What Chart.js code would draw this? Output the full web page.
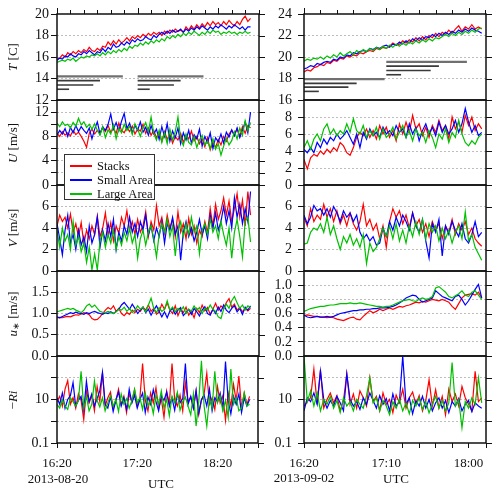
<!DOCTYPE html>
<html>
<head>
<meta charset="utf-8">
<script src="https://cdn.jsdelivr.net/npm/chart.js@4.4.1/dist/chart.umd.min.js"></script>
<style>
  body { margin: 0; background: #fff; }
  #fig { position: relative; width: 500px; height: 493px; overflow: hidden;
         font-family: 'Liberation Serif', 'Times New Roman', serif; color: #111; }
  #fig canvas { position: absolute; }
  .ytitle { position: absolute; transform: translate(-50%, -50%) rotate(-90deg);
            white-space: nowrap; font-size: 13px; }
  .txt { position: absolute; transform: translate(-50%, -50%); white-space: nowrap; font-size: 13px; }
  #legend { position: absolute; left: 64px; top: 154px; width: 89px; height: 40px;
            border: 1px solid #333; background: #fff; z-index: 10; font-size: 12.5px; padding-top: 4px; box-sizing: content-box; }
  #legend .row { position: relative; height: 14px; line-height: 14px; padding-left: 32px; }
  #legend .sw { position: absolute; left: 5px; top: 6px; width: 22px; height: 2px; }
</style>
</head>
<body>
<div id="fig"></div>
<script>
// Temperature, wind and stability at three sites, two days
// sampled every STEP_MIN minutes from 16:20 UTC

const STEP_MIN = 2;
const SERIES_NAMES = ['Stacks', 'Small Area', 'Large Area'];
const SERIES_COLORS = ['#ff0000', '#0000ff', '#00c000'];

const leftXTickMinutes = [0, 60, 120];
const leftXTickLabels = ['16:20', '17:20', '18:20'];
const rightXTickMinutes = [0, 50, 100];
const rightXTickLabels = ['16:20', '17:10', '18:00'];
const RI_TICKS = [0.1, 1, 10, 100, 1000];
const RI_LABELED = [0.1, 10];

// averaging-window bars in the temperature panels (minutes / deg C)
const barDurations = [9, 27, 32, 49];
const leftBarStarts = [0, 60];
const leftBarLevels = [13.0, 13.4, 13.8, 14.2];
const rightBarStarts = [0, 50];
const rightBarLevels1 = [16.8, 17.2, 17.55, 17.95];
const rightBarLevels2 = [18.35, 18.75, 19.15, 19.55];

// ---- 2013-08-20 ----
const leftTempStacks = [15.8,15.9,16.2,16.0,16.4,16.2,16.5,16.3,16.6,16.4,
  16.7,16.5,16.9,16.6,16.5,16.8,16.6,17.0,16.9,17.4,
  17.1,17.5,17.2,17.6,17.3,17.5,17.8,17.5,17.9,17.7,
  18.0,17.8,18.1,17.9,18.2,18.0,18.3,18.1,18.3,18.0,
  18.4,18.2,18.5,18.3,18.6,18.4,18.5,18.3,18.8,18.5,
  18.9,18.6,19.0,18.7,19.1,18.8,19.2,18.9,19.3,19.0,
  19.2,18.9,19.3,19.0,19.4,19.1,18.9,19.3,19.0,19.5,
  19.8,19.3,19.6];
const leftTempSmall = [15.7,15.9,15.8,16.1,16.0,16.3,16.1,16.0,16.3,16.2,
  16.5,16.3,16.6,16.4,16.2,16.5,16.4,16.8,16.5,16.9,
  16.7,17.2,16.9,17.0,17.3,17.1,17.4,17.2,17.6,17.4,
  17.7,17.5,17.6,17.9,17.7,17.6,18.0,17.8,18.1,18.3,
  18.1,18.4,18.2,18.5,18.3,18.4,18.6,18.3,18.6,18.4,
  18.7,18.5,18.8,18.6,18.9,18.7,18.5,18.8,18.6,18.9,
  18.7,19.0,18.8,18.6,18.9,18.7,19.0,18.8,18.6,18.8,
  18.5,18.8,18.8];
const leftTempLarge = [15.5,15.6,15.7,15.6,15.8,15.7,15.9,15.6,15.8,16.0,
  15.9,16.1,16.0,16.2,16.1,16.3,16.1,16.4,16.2,16.5,
  16.3,16.6,16.4,16.7,16.5,16.8,16.6,17.0,16.8,17.1,
  17.0,17.3,17.1,17.4,17.2,17.5,17.3,17.6,17.4,17.7,
  17.5,17.9,17.7,18.0,17.8,18.1,17.9,18.2,18.0,18.3,
  18.1,18.4,18.2,18.0,18.3,18.1,18.4,18.2,18.5,18.3,
  18.4,18.1,18.3,18.2,18.4,18.2,18.3,18.1,18.3,18.2,
  18.4,18.2,18.3];

const leftUStacks = [8.5,8.0,8.8,8.2,8.6,8.1,9.0,8.3,8.7,8.0,
  7.2,6.2,8.5,9.2,8.4,9.0,8.6,9.4,8.8,9.8,
  8.7,9.3,8.5,10.2,9.0,8.6,9.5,8.8,9.7,8.4,
  9.2,8.9,10.0,8.5,9.4,8.2,9.0,7.8,8.6,7.2,
  8.8,7.5,8.4,6.9,8.0,7.4,8.5,7.0,8.2,7.6,
  8.9,7.3,8.0,6.8,7.6,6.3,7.8,5.8,7.0,6.2,
  7.5,6.6,8.0,7.2,8.4,9.0,8.2,9.3,8.0,9.6,
  8.5,9.8,9.4];
const leftUSmall = [8.2,9.0,8.4,9.3,8.0,9.5,8.6,9.8,8.8,9.6,
  9.0,8.5,9.4,7.6,9.2,10.4,8.4,9.6,9.0,10.0,
  11.7,9.2,10.3,8.9,10.5,11.8,9.3,10.2,8.6,9.8,
  9.0,10.4,8.7,9.5,8.2,9.8,8.4,9.2,7.5,9.6,
  8.0,10.1,7.2,8.9,7.8,9.4,6.8,8.6,7.4,9.0,
  6.9,8.3,7.6,9.2,6.4,8.0,7.0,8.6,6.0,7.8,
  7.1,8.4,6.9,8.7,7.9,9.1,8.1,9.4,7.8,9.0,
  10.4,8.6,12.0];
const leftULarge = [10.2,9.6,10.4,9.8,10.0,9.4,10.3,9.7,11.0,9.9,
  10.4,9.5,10.0,9.2,10.1,9.0,8.2,9.6,7.8,9.1,
  8.4,9.9,7.6,9.3,8.6,10.0,9.0,9.7,8.3,10.1,
  9.2,8.0,9.4,10.3,8.8,11.2,8.5,7.4,9.0,7.0,
  8.6,6.8,9.2,7.4,8.8,11.2,7.6,6.5,8.4,7.0,
  6.6,8.0,6.2,7.4,8.2,6.6,7.2,6.0,7.6,5.9,
  6.8,4.9,6.4,7.7,6.6,7.3,8.8,7.6,9.4,8.2,
  10.6,9.0,10.3];

const leftVStacks = [4.2,5.2,4.6,5.0,4.0,5.3,3.6,4.4,3.2,4.5,
  2.5,3.8,3.0,4.2,3.4,5.1,3.2,4.0,5.4,3.3,
  4.5,2.8,4.2,3.5,5.0,4.2,5.6,3.8,4.6,3.4,
  4.8,3.6,4.2,5.5,3.2,4.6,3.8,6.1,4.2,5.0,
  3.5,5.2,4.0,4.8,3.2,5.5,3.6,4.4,3.0,4.9,
  3.4,4.2,2.6,3.8,3.2,4.6,3.6,5.8,4.2,6.2,
  4.8,5.6,6.8,5.2,6.5,4.6,5.8,7.2,5.0,6.6,
  4.2,7.4,5.2];
const leftVSmall = [4.4,3.0,1.5,3.8,5.2,2.6,3.4,2.0,3.8,2.4,
  3.2,1.8,4.2,2.6,3.4,5.0,2.2,3.8,2.8,4.4,
  3.2,4.8,2.0,3.6,2.8,4.2,3.4,5.0,3.6,4.4,
  3.2,4.6,3.8,5.2,3.4,4.2,2.8,4.0,3.2,4.6,
  2.6,4.4,3.8,5.0,3.4,4.2,1.0,3.6,4.6,3.2,
  4.0,2.8,3.6,4.8,3.4,4.2,3.0,5.2,4.0,5.4,
  3.8,4.6,6.0,4.4,5.6,4.0,6.8,5.0,6.2,4.4,
  5.8,4.6,7.4];
const leftVLarge = [3.8,2.2,4.0,2.8,3.4,2.0,4.6,2.4,3.2,1.8,
  2.6,0.8,2.2,0.1,1.6,0.1,2.8,3.6,2.2,3.4,
  2.6,3.8,2.0,3.2,2.4,3.6,2.8,4.0,2.6,3.4,
  1.2,3.0,3.8,2.4,3.6,4.2,3.0,1.3,3.4,4.4,
  3.6,4.8,3.2,4.2,1.4,3.8,4.6,3.2,4.4,3.4,
  5.0,3.6,4.2,1.6,3.8,4.4,3.4,4.8,3.6,4.2,
  3.0,4.6,3.4,2.4,4.0,1.2,3.6,4.8,3.2,1.3,
  4.6,5.0,2.7];

const leftUstarStacks = [0.90,0.91,0.90,0.92,0.93,0.92,0.95,0.97,0.96,0.99,
  1.02,1.00,0.97,0.88,0.85,0.86,0.92,1.00,1.08,1.14,
  1.10,1.18,1.05,1.12,1.00,0.95,1.02,0.98,1.08,1.02,
  1.10,1.05,1.15,1.08,1.20,1.05,1.12,0.98,1.04,1.22,
  1.10,1.25,1.08,1.00,1.18,0.95,1.10,1.02,1.15,0.96,
  1.05,0.90,1.12,1.02,1.20,1.06,1.14,0.98,1.10,1.24,
  1.08,1.18,1.12,1.26,1.35,1.15,1.22,1.08,1.14,1.04,
  1.12,1.06,1.12];
const leftUstarSmall = [0.92,0.90,0.93,0.96,0.99,1.02,1.00,1.03,1.01,1.00,
  0.98,1.02,1.00,1.03,1.05,1.02,1.00,0.98,1.02,1.00,
  1.04,1.00,1.05,1.10,1.20,1.26,1.18,1.10,1.22,1.12,
  1.00,1.08,1.15,1.02,1.10,0.96,1.08,1.18,1.05,0.92,
  1.04,0.90,1.06,1.12,0.98,1.08,1.14,0.95,1.02,1.10,
  0.98,1.12,1.04,0.94,1.08,1.16,1.00,0.96,1.10,1.00,
  1.15,1.05,1.20,1.08,1.02,1.12,1.18,1.04,1.12,0.98,
  1.15,1.08,1.18];
const leftUstarLarge = [1.04,1.06,1.08,1.10,1.12,1.10,1.12,1.08,1.05,1.02,
  1.08,1.18,1.22,1.15,1.20,1.12,1.05,1.03,1.02,1.05,
  1.02,1.00,1.04,1.10,1.08,1.15,1.05,1.12,1.02,1.08,
  1.18,1.10,1.15,1.04,1.20,1.36,1.12,1.02,1.14,1.05,
  1.10,1.30,1.08,1.15,1.04,1.12,1.06,1.16,1.00,1.10,
  1.06,1.18,1.08,1.14,1.00,1.12,1.08,1.20,1.10,1.05,
  0.92,0.88,1.10,1.22,1.12,1.30,1.40,1.25,1.12,1.20,
  1.08,1.18,1.14];

const leftRiStacks = [8,14,5,30,73,6,12,4,18,9,
  1.2,25,7,15,3,40,8,160,5,12,
  22,4,9,30,6,14,2.5,18,8,28,
  5,12,450,9,3,20,7,35,4,11,
  1.5,24,6,450,10,5,16,3,60,8,
  13,4,25,2,9,18,160,6,12,3.5,
  40,7,15,1.1,20,5,50,9,120,4,
  20,6,14];
const leftRiSmall = [12,6,20,4,10,15,60,5,9,14,
  3,70,8,18,5,11,25,180,6,4,
  14,2.8,9,22,5,12,3.5,30,7,16,
  4,10,20,2.5,13,6,28,8,3,15,
  9,22,5,12,3.2,18,7,11,450,6,
  14,4,26,2.4,10,16,5,30,3,12,
  8,20,4,550,9,2.2,14,6,18,2.5,
  12,5,10];
const leftRiLarge = [6,4,10,5,3.5,12,8,5,9,200,
  4,14,3,6,70,9,4.5,12,3,7,
  15,5,10,2.8,18,6,11,4,9,30,
  7,12,3.5,20,5,9,2.2,16,6,25,
  4,10,1.8,14,7,22,3.2,8,13,5,
  2,18,0.6,8,600,5,0.6,12,4,200,
  7,15,3,9,1.5,250,6,12,3,4,
  20,5,6];

// ---- 2013-09-02 ----
const rightTempStacks = [18.6,18.8,18.7,19.0,19.1,19.3,19.2,19.5,19.4,19.7,
  19.6,19.9,19.8,20.1,20.0,20.2,20.1,20.4,20.3,20.5,
  20.6,20.5,20.8,20.7,20.9,20.8,21.0,21.3,21.1,21.2,
  21.5,21.3,21.6,21.4,21.8,21.5,21.9,21.6,22.0,21.8,
  22.2,21.9,22.3,22.1,22.5,22.2,22.6,22.9,22.4,22.8,
  22.6,23.0,22.6,22.8,22.6];
const rightTempSmall = [18.9,19.0,19.2,19.1,19.4,19.3,19.5,19.6,19.5,19.8,
  19.7,20.0,19.9,20.2,20.1,20.4,20.3,20.5,20.6,20.5,
  20.8,20.7,20.9,20.8,21.0,21.1,20.9,21.2,21.1,21.4,
  21.2,21.5,21.3,21.7,21.5,21.8,21.6,21.9,21.8,22.1,
  21.9,22.2,22.0,22.3,22.1,22.4,22.2,22.5,22.3,22.6,
  22.4,22.7,22.5,22.4,22.2];
const rightTempLarge = [19.6,19.8,19.7,19.9,19.8,20.0,19.8,20.1,19.9,20.2,
  20.0,20.4,20.1,20.3,20.5,20.2,20.6,20.4,20.7,20.5,
  20.8,20.6,20.9,20.7,21.0,20.8,21.1,20.9,21.2,21.0,
  21.3,21.1,21.4,21.2,21.5,21.3,21.6,21.4,21.7,21.5,
  21.8,21.7,21.9,22.1,21.9,22.2,22.0,22.3,22.1,22.4,
  22.2,22.5,22.3,22.6,22.7];

const rightUStacks = [3.0,1.9,3.2,3.6,3.4,4.0,3.6,4.2,3.8,4.4,
  4.0,5.0,4.6,3.8,3.5,4.4,5.6,6.2,5.8,6.6,
  5.6,6.4,5.4,7.0,6.0,6.8,5.6,6.4,5.2,7.2,
  6.0,7.4,6.2,8.2,6.6,7.2,5.8,6.8,5.6,7.0,
  6.2,7.6,6.4,7.0,5.4,8.0,6.6,7.4,6.2,8.2,
  7.0,8.0,6.4,7.2,6.6];
const rightUSmall = [4.2,3.8,4.4,3.8,5.0,4.4,5.4,4.8,5.6,5.2,
  6.0,5.4,5.8,6.4,5.6,4.8,6.0,4.4,6.2,5.4,
  6.6,5.8,6.2,5.6,6.8,6.0,6.4,5.8,7.0,6.2,
  6.6,5.6,7.2,6.0,6.8,5.2,6.4,7.2,6.0,6.8,
  5.8,7.4,6.2,7.0,6.0,6.6,7.6,6.2,7.2,9.0,
  7.4,6.2,7.0,5.8,6.2];
const rightULarge = [4.4,5.2,4.2,5.4,6.0,5.2,6.6,7.2,6.0,6.6,
  5.8,6.4,6.0,7.2,6.2,7.8,6.4,6.0,7.0,5.6,
  6.4,5.8,6.8,5.4,6.6,5.6,6.0,6.8,5.4,6.2,
  7.0,5.6,6.4,5.2,6.6,5.8,6.2,5.0,6.4,5.6,
  4.4,6.0,5.4,6.6,5.0,6.2,5.6,7.6,6.0,5.0,
  4.6,5.2,4.8,5.6,6.0];

const rightVStacks = [5.0,4.2,5.8,4.6,5.2,4.8,6.2,5.0,5.8,4.6,
  5.6,4.4,5.2,4.2,5.4,4.4,3.8,4.6,6.2,4.2,
  4.8,3.8,4.4,3.0,4.2,2.2,4.6,5.8,5.0,5.6,
  4.4,5.2,4.0,5.4,4.2,4.8,3.6,4.4,3.2,4.6,
  3.8,4.4,3.0,4.2,3.6,4.8,3.4,4.4,3.8,4.6,
  3.4,4.0,3.0,2.6,2.3];
const rightVSmall = [5.2,4.4,5.0,6.1,5.6,5.8,5.2,5.8,5.0,6.0,
  5.4,4.6,5.6,5.0,5.4,4.6,5.2,3.6,3.0,3.4,
  2.8,3.2,2.4,2.6,4.0,3.2,4.6,3.8,5.0,4.2,
  5.2,4.6,3.8,5.4,4.2,3.6,4.8,2.8,1.2,4.4,
  3.6,4.8,1.4,4.2,3.4,4.6,3.8,3.2,4.4,3.0,
  2.6,3.4,4.6,3.2,3.6];
const rightVLarge = [2.5,2.6,3.6,4.0,3.8,4.4,3.6,5.0,3.4,4.2,
  3.0,2.0,3.2,2.6,3.4,2.4,3.0,2.2,3.4,0.7,
  2.6,1.8,2.2,3.0,4.0,3.2,4.2,3.0,4.4,2.8,
  3.8,2.6,4.2,3.2,4.6,3.4,4.8,3.0,4.4,3.6,
  4.2,2.8,4.0,3.0,3.8,2.6,3.6,4.2,3.0,5.5,
  2.8,3.4,2.2,1.6,1.0];

const rightUstarStacks = [0.57,0.58,0.57,0.56,0.56,0.55,0.55,0.54,0.55,0.54,
  0.52,0.51,0.50,0.52,0.54,0.55,0.52,0.51,0.56,0.60,
  0.64,0.61,0.63,0.66,0.64,0.66,0.68,0.66,0.68,0.70,
  0.69,0.71,0.72,0.74,0.76,0.75,0.77,0.76,0.78,0.80,
  0.79,0.78,0.80,0.78,0.76,0.70,0.66,0.74,0.82,0.86,
  0.87,0.88,0.86,0.90,0.82];
const rightUstarSmall = [0.58,0.55,0.54,0.55,0.56,0.55,0.55,0.56,0.55,0.56,
  0.58,0.60,0.61,0.62,0.63,0.64,0.64,0.65,0.65,0.66,
  0.66,0.67,0.67,0.68,0.68,0.68,0.69,0.70,0.72,0.75,
  0.78,0.82,0.84,0.86,0.85,0.80,0.76,0.78,0.80,0.82,
  0.92,0.88,0.84,0.82,0.80,0.78,0.84,0.86,0.80,0.72,
  0.78,0.86,0.94,1.01,0.82];
const rightUstarLarge = [0.63,0.65,0.67,0.68,0.69,0.70,0.70,0.71,0.72,0.72,
  0.73,0.74,0.74,0.74,0.75,0.74,0.74,0.75,0.74,0.73,
  0.72,0.71,0.70,0.70,0.69,0.70,0.70,0.72,0.74,0.76,
  0.78,0.79,0.80,0.78,0.77,0.80,0.82,0.80,0.81,0.84,
  0.96,0.98,0.94,0.90,0.84,0.82,0.85,0.88,0.92,0.86,
  0.84,0.90,0.92,0.86,0.80];

const rightRiStacks = [5,8,12,250,6,230,4,10,20,7,
  15,3,9,150,6,18,4,25,12,5,
  100,8,14,3,20,6,10,2.5,16,7,
  30,4,12,22,6,15,3,9,80,5,
  28,4,14,2,30,8,18,5,40,12,
  6,3,200,8,12];
const rightRiSmall = [3,12,8,20,6,200,10,4,9,5,
  14,7,3,150,10,5,8,3.5,12,6,
  20,9,4,15,6,11,3,18,5,8,
  1000,6,12,2.2,9,5,14,4,10,3,
  7,12,4,9,2.5,8,5,11,3,6,
  9,2.8,7,5,4];
const rightRiLarge = [1000,8,25,5,20,3,10,6,14,4,
  9,2.5,12,5,8,3,10,6,4,15,
  100,7,12,3,9,5,2,8,4,10,
  3,7,2.2,9,5,12,3.5,8,2.4,6,
  14,4,9,3,7,500,5,10,0.5,8,
  4,12,6,100,7];

// ---- layout ----
const ROWS = [
  { top: 14, bottom: 100 },
  { top: 100, bottom: 185 },
  { top: 185, bottom: 271 },
  { top: 271, bottom: 356 },
  { top: 356, bottom: 443 }
];
const PAD = 18; // room above/below each plot, larger than Chart's label padding

const COLUMNS = [
  {
    canvasX: 0, canvasW: 266, axisW: 57, plotW: 202, xMax: 150.3, labelPad: 2, majorEvery: 60,
    xTicks: leftXTickMinutes, xLabels: leftXTickLabels,
    panels: [
      { series: [leftTempStacks, leftTempSmall, leftTempLarge], y: { min: 12, max: 20, step: 2 },
        bars: { starts: leftBarStarts, levels: [leftBarLevels, leftBarLevels] } },
      { series: [leftUStacks, leftUSmall, leftULarge], y: { min: 0, max: 14, step: 2, labelEvery: 4, hideTop: true } },
      { series: [leftVStacks, leftVSmall, leftVLarge], y: { min: 0, max: 8, step: 2, hideTop: true } },
      { series: [leftUstarStacks, leftUstarSmall, leftUstarLarge], y: { min: 0, max: 2, step: 0.5, dec: 1, hideTop: true } },
      { series: [leftRiStacks, leftRiSmall, leftRiLarge], y: { log: true, min: 0.1, max: 1000, hideTop: true } }
    ]
  },
  {
    canvasX: 262, canvasW: 238, axisW: 42, plotW: 182, xMax: 110.6, labelPad: 6, majorEvery: 50,
    xTicks: rightXTickMinutes, xLabels: rightXTickLabels,
    panels: [
      { series: [rightTempStacks, rightTempSmall, rightTempLarge], y: { min: 16, max: 24, step: 2 },
        bars: { starts: rightBarStarts, levels: [rightBarLevels1, rightBarLevels2] } },
      { series: [rightUStacks, rightUSmall, rightULarge], y: { min: 0, max: 10, step: 2, hideTop: true } },
      { series: [rightVStacks, rightVSmall, rightVLarge], y: { min: 0, max: 8, step: 2, hideTop: true } },
      { series: [rightUstarStacks, rightUstarSmall, rightUstarLarge], y: { min: 0, max: 1.2, step: 0.2, dec: 1, hideTop: true } },
      { series: [rightRiStacks, rightRiSmall, rightRiLarge], y: { log: true, min: 0.1, max: 1000, hideTop: true } }
    ]
  }
];

Chart.defaults.font.family = "'Liberation Serif', 'Times New Roman', serif";
Chart.defaults.color = '#111';

// frame, mirrored right ticks and top ticks
const framePlugin = {
  id: 'frame',
  afterDraw(chart, args, opts) {
    const { ctx, chartArea: a } = chart;
    const xs = chart.scales.x, ys = chart.scales.y;
    ctx.save();
    ctx.strokeStyle = '#111';
    ctx.lineWidth = 1;
    ctx.beginPath();
    ys.ticks.forEach(t => {
      const py = Math.round(ys.getPixelForValue(t.value)) + 0.5;
      ctx.moveTo(a.right, py);
      ctx.lineTo(a.right + 6, py);
    });
    if (opts.topTicks) {
      for (let v = 0; v <= xs.max; v += 10) {
        const px = Math.round(xs.getPixelForValue(v)) + 0.5;
        const len = v % opts.majorEvery === 0 ? 6 : 4;
        ctx.moveTo(px, a.top);
        ctx.lineTo(px, a.top - len);
      }
    }
    ctx.stroke();
    ctx.lineWidth = 1.5;
    ctx.strokeRect(a.left, a.top, a.right - a.left, a.bottom - a.top);
    ctx.restore();
  }
};

const fig = document.getElementById('fig');

function toPoints(values) {
  return values.map((v, i) => ({ x: i * STEP_MIN, y: v }));
}

function makePanel(col, panel, r) {
  const row = ROWS[r];
  const isBottom = r === ROWS.length - 1;
  const padTop = PAD;
  const padBottom = isBottom ? 0 : PAD;
  const xAxisH = isBottom ? 28 : 0;
  const h = row.bottom - row.top + padTop + padBottom + xAxisH;

  const canvas = document.createElement('canvas');
  canvas.width = col.canvasW;
  canvas.height = h;
  canvas.style.left = col.canvasX + 'px';
  canvas.style.top = (row.top - padTop) + 'px';
  canvas.style.width = col.canvasW + 'px';
  canvas.style.height = h + 'px';
  fig.appendChild(canvas);

  const yc = panel.y;
  const datasets = panel.series.map((vals, k) => ({
    label: SERIES_NAMES[k],
    data: toPoints(vals),
    borderColor: SERIES_COLORS[k],
    borderWidth: 1.2,
    pointRadius: 0,
    tension: 0,
    order: 3 - k
  }));

  if (panel.bars) {
    panel.bars.starts.forEach((s, g) => {
      panel.bars.levels[g].forEach((lvl, k) => {
        datasets.push({
          label: 'window',
          data: [{ x: s, y: lvl }, { x: s + barDurations[k], y: lvl }],
          borderColor: k === barDurations.length - 1 ? '#707070' : '#3a3a3a',
          borderWidth: k === barDurations.length - 1 ? 2.2 : 1.6,
          pointRadius: 0,
          order: 0
        });
      });
    });
  }

  const isEdge = v => Math.abs(v - yc.min) < 1e-9 || Math.abs(v - yc.max) < 1e-9;

  new Chart(canvas, {
    type: 'line',
    data: { datasets },
    options: {
      responsive: false,
      devicePixelRatio: 1,
      animation: false,
      events: [],
      layout: { padding: { top: padTop, bottom: padBottom, left: 0, right: col.canvasW - col.axisW - col.plotW } },
      plugins: {
        legend: { display: false },
        tooltip: { enabled: false },
        frame: { topTicks: r === 0, majorEvery: col.majorEvery }
      },
      scales: {
        x: {
          type: 'linear',
          min: 0,
          max: col.xMax,
          display: isBottom,
          afterFit: s => { s.height = xAxisH; },
          ticks: {
            stepSize: 10,
            autoSkip: false,
            maxRotation: 0,
            padding: 8,
            font: { size: 13 },
            callback: v => {
              const i = col.xTicks.indexOf(v);
              return i >= 0 ? col.xLabels[i] : '';
            }
          },
          grid: { drawOnChartArea: false, drawTicks: true, tickLength: 5, tickColor: '#111' },
          border: { display: false }
        },
        y: {
          type: yc.log ? 'logarithmic' : 'linear',
          min: yc.min,
          max: yc.max,
          afterFit: s => { s.width = col.axisW; },
          afterBuildTicks: yc.log ? s => { s.ticks = RI_TICKS.map(v => ({ value: v })); } : undefined,
          ticks: {
            stepSize: yc.step,
            autoSkip: false,
            padding: col.labelPad,
            font: { size: 14 },
            callback: (value, index, ticks) => {
              if (yc.hideTop && index === ticks.length - 1) return '';
              if (yc.log) return RI_LABELED.includes(value) ? String(value) : '';
              if (yc.labelEvery && Math.abs(value / yc.labelEvery - Math.round(value / yc.labelEvery)) > 1e-6) return '';
              return Number(value).toFixed(yc.dec || 0);
            }
          },
          grid: {
            color: c => (c.tick && isEdge(c.tick.value)) ? 'rgba(0,0,0,0)' : '#bdbdbd',
            lineWidth: 1,
            drawTicks: true,
            tickLength: 6,
            tickColor: '#111',
            tickWidth: 1
          },
          border: { display: false, dash: [2, 2] }
        }
      }
    },
    plugins: [framePlugin]
  });
}

COLUMNS.forEach(col => col.panels.forEach((p, r) => makePanel(col, p, r)));

// axis titles and annotations
function addText(cls, html, x, y) {
  const d = document.createElement('div');
  d.className = cls;
  d.innerHTML = html;
  d.style.left = x + 'px';
  d.style.top = y + 'px';
  fig.appendChild(d);
}
const Y_TITLES = [
  '<i>T</i> [C]',
  '<i>U</i> [m/s]',
  '<i>V</i> [m/s]',
  '<i>u</i><span style="font-size:9px;position:relative;top:2px">&lowast;</span> [m/s]',
  '&minus;<i>Ri</i>'
];
Y_TITLES.forEach((t, r) => addText('ytitle', t, 13, (ROWS[r].top + ROWS[r].bottom) / 2));
addText('txt', '2013-08-20', 58, 479);
addText('txt', 'UTC', 161, 484);
addText('txt', '2013-09-02', 304, 478);
addText('txt', 'UTC', 396, 479);

// legend
const legend = document.createElement('div');
legend.id = 'legend';
SERIES_NAMES.forEach((name, k) => {
  const row = document.createElement('div');
  row.className = 'row';
  row.innerHTML = '<span class="sw" style="background:' + SERIES_COLORS[k] + '"></span>' + name;
  legend.appendChild(row);
});
fig.appendChild(legend);
</script>
</body>
</html>
